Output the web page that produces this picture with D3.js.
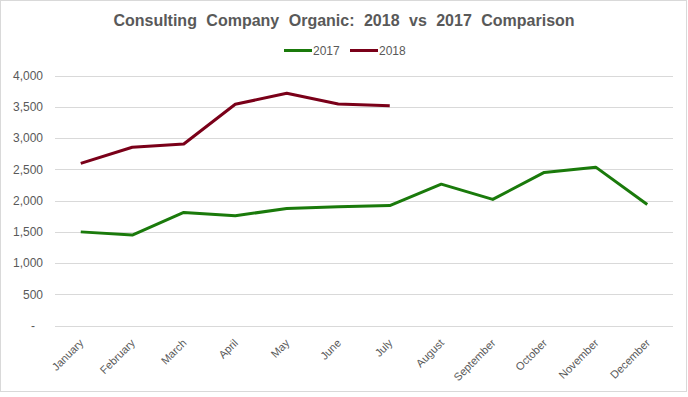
<!DOCTYPE html>
<html><head><meta charset="utf-8">
<script src="https://cdn.jsdelivr.net/npm/d3@7"></script>
<style>body{margin:0;background:#fff}svg{display:block;font-family:"Liberation Sans",Arial,sans-serif}</style>
</head><body><svg id="c" width="688" height="397"></svg>
<script>
const months = ["January","February","March","April","May","June","July","August","September","October","November","December"];
const values2017 = [1500,1450,1810,1757,1875,1900,1920,2263,2019,2450,2535,1939];
const values2018 = [2596,2852,2905,3540,3715,3545,3515];
const yTicks = [0,500,1000,1500,2000,2500,3000,3500,4000];
const seriesNames = ["2017","2018"];
const colors = ["#1a7a0b","#7a0019"];

(function(){
const svg = d3.select("#c");
svg.append("rect").attr("x",0.5).attr("y",0.5).attr("width",686).attr("height",391)
  .attr("fill","#fff").attr("stroke","#d9d9d9");

const pL=55, pR=673, pT=75.5, pB=325.7;
const x = d3.scalePoint().domain(months).range([pL,pR]).padding(0.5);
const y = d3.scaleLinear().domain([0,4000]).range([pB,pT]);

// gridlines
svg.append("g").selectAll("line").data(yTicks).join("line")
  .attr("x1",pL).attr("x2",pR)
  .attr("y1",d=>Math.round(y(d))+0.5).attr("y2",d=>Math.round(y(d))+0.5)
  .attr("stroke","#d9d9d9").attr("stroke-width",1);

// y axis labels
const yAxis = d3.axisLeft(y).tickValues(yTicks).tickSize(0).tickPadding(0)
  .tickFormat(d=> d===0 ? "-" : d3.format(",")(d));
const gy = svg.append("g").attr("transform",`translate(${pL-12},0)`).call(yAxis);
gy.select(".domain").remove();
gy.selectAll("text").attr("fill","#595959").attr("font-size","12px")
  .attr("font-family","\"Liberation Sans\",Arial,sans-serif")
  .attr("dx",d=>d===0?"-8px":"0");

// x axis labels
const xAxis = d3.axisBottom(x).tickSize(0).tickPadding(0);
const gx = svg.append("g").attr("transform",`translate(0,${pB})`).call(xAxis);
gx.select(".domain").remove();
gx.selectAll("text").attr("fill","#595959").attr("font-size","11px")
  .attr("font-family","\"Liberation Sans\",Arial,sans-serif")
  .attr("text-anchor","end").attr("dy","0")
  .attr("transform","translate(3,18) rotate(-45)");

// lines
const line = d3.line().x((d,i)=>x(months[i])).y(d=>y(d));
[values2017,values2018].forEach((vals,i)=>{
  svg.append("path").datum(vals).attr("d",line).attr("fill","none")
    .attr("stroke",colors[i]).attr("stroke-width",3)
    .attr("stroke-linejoin","round").attr("stroke-linecap","butt");
});

// title
svg.append("text").attr("x",344).attr("y",26).attr("text-anchor","middle")
  .attr("font-size","16px").attr("font-weight","bold").attr("fill","#595959")
  .attr("word-spacing","5px")
  .text("Consulting Company Organic: 2018 vs 2017 Comparison");

// legend
const lg = svg.append("g");
const legX = [284, 350];
seriesNames.forEach((n,i)=>{
  lg.append("line").attr("x1",legX[i]).attr("x2",legX[i]+28).attr("y1",50.5).attr("y2",50.5)
    .attr("stroke",colors[i]).attr("stroke-width",3);
  lg.append("text").attr("x",legX[i]+29).attr("y",55).attr("font-size","12px")
    .attr("fill","#595959").text(n);
});
})();
</script></body></html>
